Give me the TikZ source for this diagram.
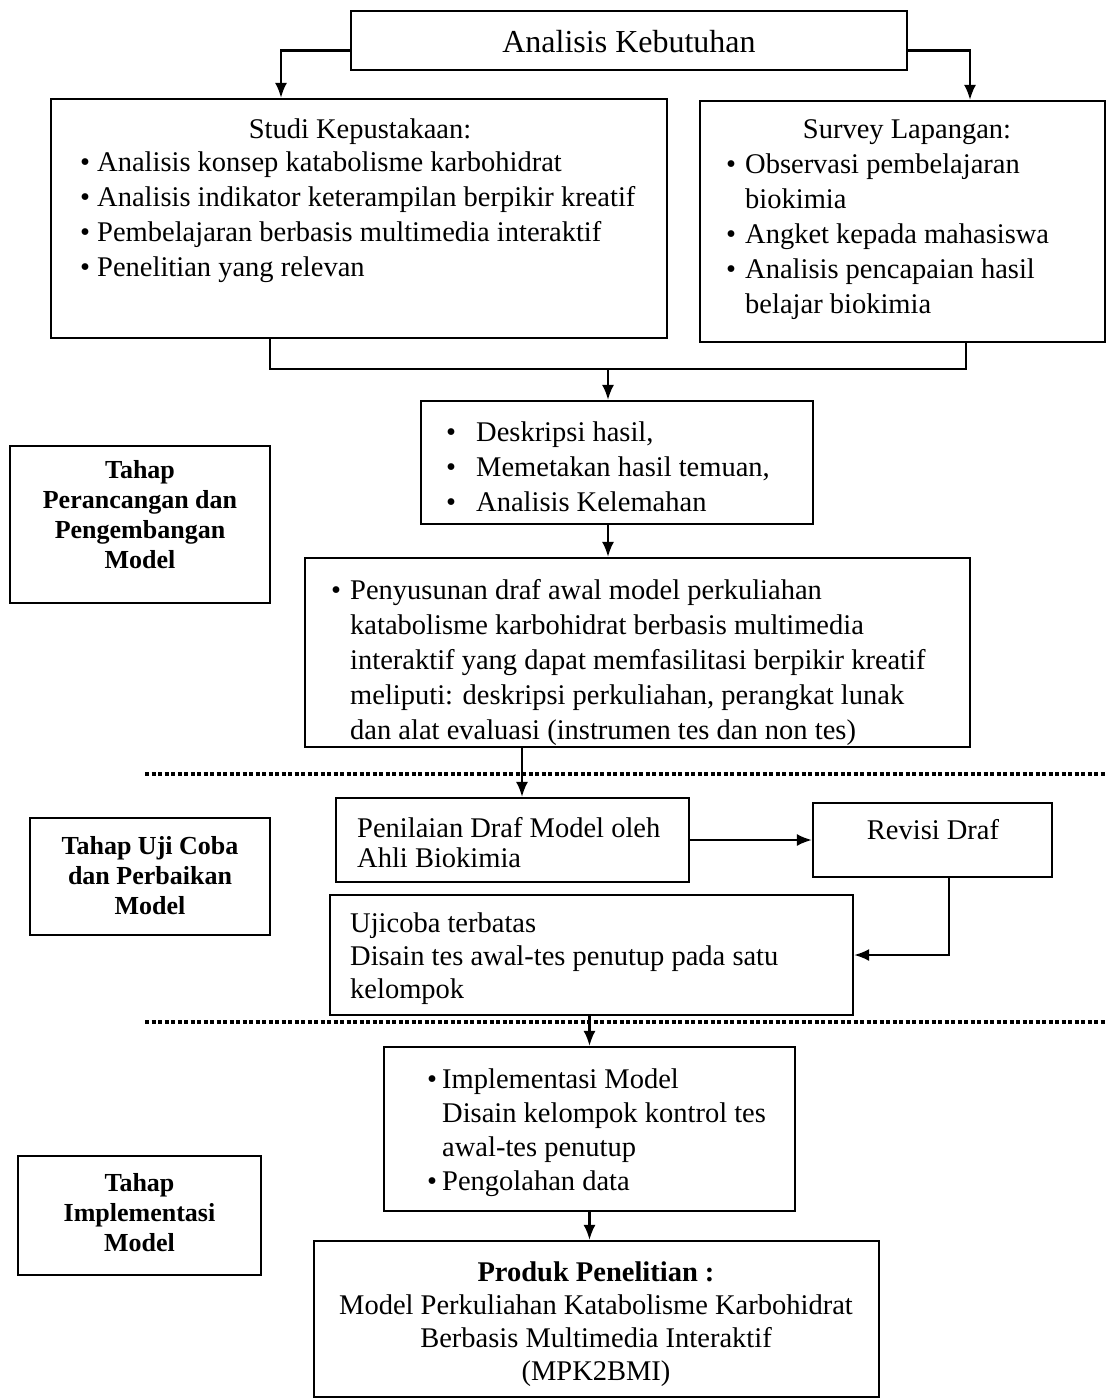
\documentclass[tikz,border=0pt]{standalone}
\usepackage{fontspec}
\setmainfont{Liberation Serif}
\usetikzlibrary{arrows.meta,calc}
\newcommand{\bulx}[1]{\makebox[#1][l]{\textbullet}}
\begin{document}
\begin{tikzpicture}[x=1pt,y=-1pt,
  box/.style={draw,line width=2.2pt,inner sep=0pt},
  conn/.style={line width=2.2pt},
  arr/.style={line width=2.2pt,-{Latex[length=15pt,width=12pt]}},
  body/.style={inner sep=0pt,align=left,anchor=north west,font=\fontsize{28.5}{35}\selectfont},
  lab/.style={inner sep=0pt,align=center,anchor=north,font=\bfseries\fontsize{26}{30}\selectfont},
  plain/.style={inner sep=0pt,anchor=base,font=\fontsize{28.5}{35}\selectfont},
  dotline/.style={line width=3.5pt,dash pattern=on 4pt off 2.5pt}]
\useasboundingbox[fill=white] (0,0) rectangle (1106,1398);

% boxes
\node[box,minimum width=556pt,minimum height=59pt] (ak) at (629,40.5) {};
\node[box,minimum width=616pt,minimum height=239pt] (studi) at (359,218.5) {};
\node[box,minimum width=405pt,minimum height=241pt] (survey) at (902.5,221.5) {};
\node[box,minimum width=392pt,minimum height=123pt] (desk) at (617,462.5) {};
\node[box,minimum width=665pt,minimum height=189pt] (peny) at (637.5,652.5) {};
\node[box,minimum width=260pt,minimum height=157pt] (tahap1) at (140,524.5) {};
\node[box,minimum width=353pt,minimum height=84pt] (penil) at (512.5,840) {};
\node[box,minimum width=239pt,minimum height=74pt] (rev) at (932.5,840) {};
\node[box,minimum width=523pt,minimum height=120pt] (uji) at (591.5,955) {};
\node[box,minimum width=240pt,minimum height=117pt] (tahap2) at (150,876.5) {};
\node[box,minimum width=411pt,minimum height=164pt] (impl) at (589.5,1129) {};
\node[box,minimum width=565pt,minimum height=156pt] (produk) at (596.5,1319) {};
\node[box,minimum width=243pt,minimum height=119pt] (tahap3) at (139.5,1215.5) {};

% texts
\node[plain,font=\fontsize{32}{38}\selectfont] (akT) at (629,52) {Analisis Kebutuhan};
\node[plain] (studiH) at (360,138) {Studi Kepustakaan:};
\node[body] (studiT) at (80,152) {\bulx{17pt}Analisis konsep katabolisme karbohidrat\\
\bulx{17pt}Analisis indikator keterampilan berpikir kreatif\\
\bulx{17pt}Pembelajaran berbasis multimedia interaktif\\
\bulx{17pt}Penelitian yang relevan};
\node[plain] (surveyH) at (907,138) {Survey Lapangan:};
\node[body] (surveyT) at (726,154) {\bulx{19pt}Observasi pembelajaran\\
\hspace*{19pt}biokimia\\
\bulx{19pt}Angket kepada mahasiswa\\
\bulx{19pt}Analisis pencapaian hasil\\
\hspace*{19pt}belajar biokimia};
\node[body] (deskT) at (446,422) {\bulx{30pt}Deskripsi hasil,\\
\bulx{30pt}Memetakan hasil temuan,\\
\bulx{30pt}Analisis Kelemahan};
\node[body] (penyT) at (331,579) {\bulx{19pt}Penyusunan draf awal model perkuliahan\\
\hspace*{19pt}katabolisme karbohidrat berbasis multimedia\\
\hspace*{19pt}interaktif yang dapat memfasilitasi berpikir kreatif\\
\hspace*{19pt}meliputi: deskripsi perkuliahan, perangkat lunak\\
\hspace*{19pt}dan alat evaluasi (instrumen tes dan non tes)};
\node[body,font=\fontsize{28.5}{30}\selectfont] (penilT) at (357,817) {Penilaian Draf Model oleh\\Ahli Biokimia};
\node[plain] (revT) at (933,839) {Revisi Draf};
\node[body,font=\fontsize{28.5}{33}\selectfont] (ujiT) at (350,913) {Ujicoba terbatas\\
Disain tes awal-tes penutup pada satu\\kelompok};
\node[body,font=\fontsize{28.5}{34}\selectfont] (implT) at (427,1069) {\bulx{15pt}Implementasi Model\\
\hspace*{15pt}Disain kelompok kontrol tes\\
\hspace*{15pt}awal-tes penutup\\
\bulx{15pt}Pengolahan data};
\node[inner sep=0pt,align=center,anchor=north,font=\fontsize{28.5}{33}\selectfont] (produkT) at (596,1262) {\textbf{Produk Penelitian :}\\
Model Perkuliahan Katabolisme Karbohidrat\\
Berbasis Multimedia Interaktif\\
(MPK2BMI)};
\node[lab] (tahap1T) at (140,460) {Tahap\\Perancangan dan\\Pengembangan\\Model};
\node[lab] (tahap2T) at (150,836) {Tahap Uji Coba\\dan Perbaikan\\Model};
\node[lab] (tahap3T) at (139.5,1173) {Tahap\\Implementasi\\Model};

% dotted separators
\coordinate (d1a) at (145,774); \coordinate (d1b) at (1106,774);
\coordinate (d2a) at (145,1022); \coordinate (d2b) at (1106,1022);
\draw[dotline] (d1a) -- (d1b);
\draw[dotline] (d2a) -- (d2b);

% connectors
\coordinate (l1) at (281,0); \coordinate (r1) at (970,0);
\draw[arr] ($(ak.west)+(0,10)$) -| (l1 |- studi.north);
\draw[arr] ($(ak.east)+(0,10)$) -| (r1 |- survey.north);
\coordinate (ma) at (270,369); \coordinate (mb) at (966,369); \coordinate (mc) at (608,369);
\draw[conn] (ma |- studi.south) -- (ma) -- (mb) -- (mb |- survey.south);
\draw[arr] (mc) -- (mc |- desk.north);
\draw[arr] (mc |- desk.south) -- (mc |- peny.north);
\coordinate (pc) at (522,0);
\draw[arr] (pc |- peny.south) -- (pc |- penil.north);
\draw[arr] (penil.east) -- (rev.west |- penil.east);
\coordinate (rc) at (949,0);
\draw[arr] (rc |- rev.south) |- (uji.east);
\draw[arr] (uji.south -| impl.north) -- (impl.north);
\draw[arr] (impl.south) -- (impl.south |- produk.north);
\end{tikzpicture}
\end{document}
